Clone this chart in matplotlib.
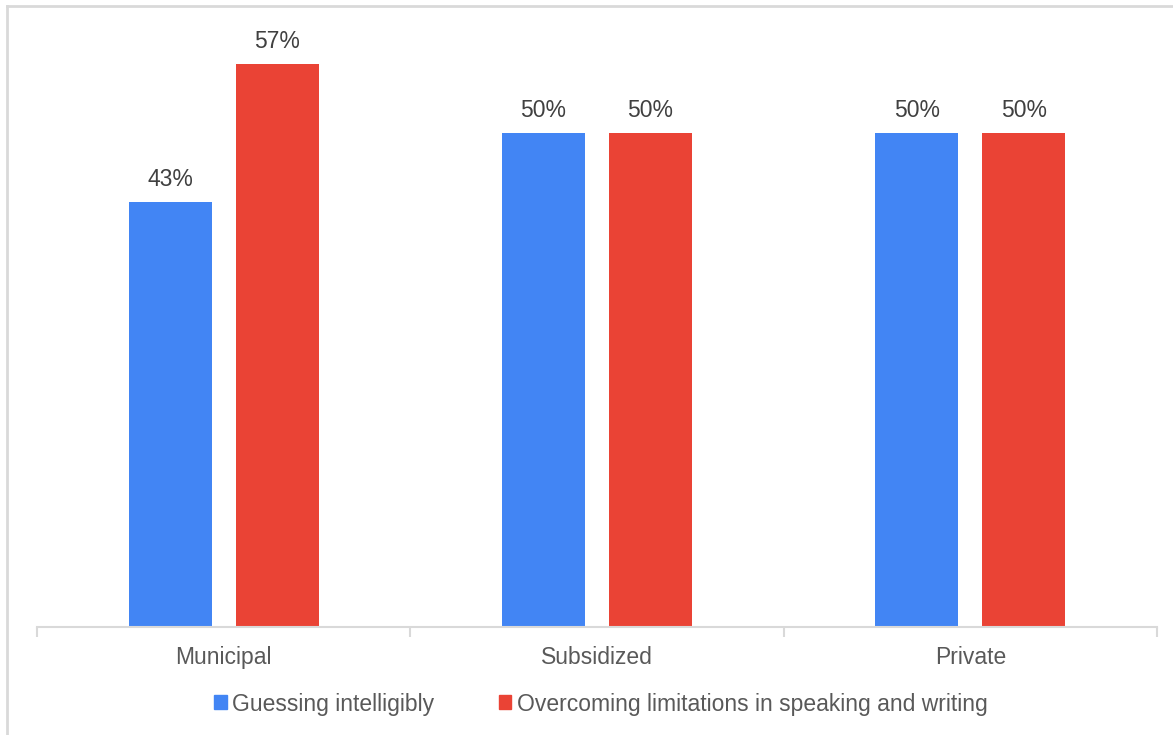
import numpy as np
import matplotlib.pyplot as plt
from matplotlib.patches import Patch
from matplotlib.lines import Line2D

# ---------------------------
# 数据
# ---------------------------
categories = ["Municipal", "Subsidized", "Private"]
guessing = [43, 50, 50]
overcoming = [57, 50, 50]
series_names = ["Guessing intelligibly", "Overcoming limitations in speaking and writing"]

BLUE = "#4285F4"
RED = "#EA4335"
LABEL = "#404040"
TEXT = "#595959"
GRID = "#D9D9D9"

plt.rcParams['font.family'] = ['Liberation Sans', 'DejaVu Sans']

W, H = 1173, 735
fig = plt.figure(figsize=(W / 100, H / 100), dpi=100)

# 坐标轴位置（像素换算）
left, right, bottom, top = 37, 1157, 627, 20
ax = fig.add_axes([left / W, 1 - bottom / H, (right - left) / W, (bottom - top) / H])

x = np.arange(len(categories))
bw = 83 / 373
off = 53.5 / 373
ax.bar(x - off, guessing, width=bw, color=BLUE, zorder=2)
ax.bar(x + off, overcoming, width=bw, color=RED, zorder=2)

for xi, v in zip(x - off, guessing):
    ax.text(xi, v + 1.1, f"{v}%", ha="center", va="bottom", fontsize=16.5, color=LABEL)
for xi, v in zip(x + off, overcoming):
    ax.text(xi, v + 1.1, f"{v}%", ha="center", va="bottom", fontsize=16.5, color=LABEL)

ax.set_xlim(-0.5, len(categories) - 0.5)
ax.set_ylim(0, (bottom - top) / 9.88)

for s in ["top", "right", "left"]:
    ax.spines[s].set_visible(False)
ax.spines["bottom"].set_color(GRID)
ax.spines["bottom"].set_linewidth(1.5)
ax.set_yticks([])
ax.set_xticks(x)
ax.set_xticklabels(categories, fontsize=16.5, color=TEXT)
ax.tick_params(axis="x", which="major", length=0, pad=14)
ax.set_xticks(np.arange(-0.5, len(categories)), minor=True)
ax.tick_params(axis="x", which="minor", length=7, width=1.5, color=GRID)

# 图例
handles = [Patch(color=BLUE), Patch(color=RED)]
fig.legend(handles, series_names, loc="center", bbox_to_anchor=(601 / W, 1 - 704 / H),
           ncol=2, frameon=False, fontsize=16.5, labelcolor=TEXT,
           handlelength=0.55, handleheight=0.55, handletextpad=0.25, columnspacing=2.8)

# 外框
fig.add_artist(Line2D([7 / W, 7 / W], [0, 1 - 6 / H], transform=fig.transFigure, color=GRID, lw=2))
fig.add_artist(Line2D([7 / W, 1], [1 - 6 / H, 1 - 6 / H], transform=fig.transFigure, color=GRID, lw=2))

fig.savefig("out.png", dpi=100)
